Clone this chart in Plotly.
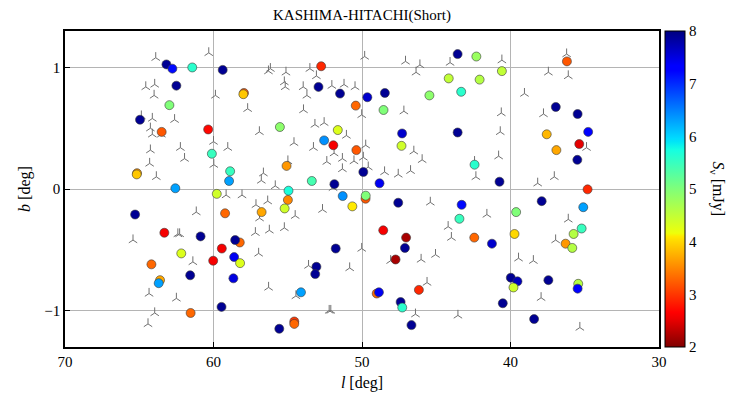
import plotly.graph_objects as go

# --- Data ---
src_l = [63.17, 62.77, 61.43, 59.38, 62.50, 57.95, 57.99, 62.97, 64.95, 63.49,
         60.36, 60.11, 65.15, 65.17, 58.88, 58.95, 62.57, 52.75, 52.93, 51.48,
         49.64, 48.46, 50.42, 48.55, 45.46, 44.16, 43.32, 43.56, 55.53, 51.63,
         52.55, 51.93, 50.38, 47.30, 47.34, 43.56, 55.08, 49.91, 53.38, 51.86,
         48.82, 54.95, 51.30, 49.76, 49.75, 42.30, 40.58, 42.08, 36.20, 36.95,
         35.48, 37.56, 34.77, 35.37, 36.91, 35.50, 42.42, 40.74, 34.81, 59.78,
         65.28, 59.22, 56.76, 63.31, 60.87, 58.23, 58.54, 59.44, 60.02, 58.61,
         58.21, 62.17, 64.18, 61.57, 58.66, 63.60, 63.69, 59.46, 61.54, 54.99,
         55.21, 50.65, 47.56, 43.29, 43.44, 48.57, 47.03, 47.11, 47.74, 51.77,
         53.07, 53.15, 54.11, 49.01, 48.86, 46.17, 47.40, 47.29, 46.67, 54.56,
         54.56, 55.57, 35.10, 37.90, 39.62, 42.44, 41.25, 39.73, 35.21, 35.75,
         36.29, 35.84, 39.98, 39.53, 39.80, 37.45, 35.44, 35.48, 40.52, 38.41]
src_b = [1.025, 0.99, 1.00, 0.98, 0.85, 0.79, 0.78, 0.69, 0.57, 0.47,
         0.49, 0.29, 0.13, 0.12, 0.146, 0.066, 0.006, 1.01, 0.84, 0.785,
         0.755, 0.79, 0.686, 0.65, 0.77, 0.91, 0.80, 1.11, 0.51, 0.485,
         0.40, 0.36, 0.32, 0.457, 0.355, 0.465, 0.19, 0.14, 0.066, 0.04,
         0.047, -0.014, -0.058, -0.08, -0.055, 1.09, 0.97, 0.90, 1.05, 0.675,
         0.617, 0.45, 0.47, 0.37, 0.32, 0.24, 0.20, 0.06, -0.003, -0.04,
         -0.21, -0.20, -0.19, -0.36, -0.39, -0.44, -0.42, -0.49, -0.59, -0.56,
         -0.61, -0.53, -0.62, -0.71, -0.735, -0.75, -0.775, -0.97, -1.02, -0.09,
         -0.16, -0.143, -0.113, -0.13, -0.245, -0.34, -0.40, -0.485, -0.58, -0.49,
         -0.64, -0.70, -0.85, -0.86, -0.85, -0.83, -0.93, -0.975, -1.12, -1.09,
         -1.11, -1.15, -0.15, -0.10, -0.19, -0.40, -0.45, -0.37, -0.325, -0.37,
         -0.45, -0.485, -0.73, -0.76, -0.81, -0.75, -0.78, -0.82, -0.94, -1.07]
src_s = [7.9, 7.2, 5.6, 7.9, 7.9, 3.2, 3.9, 5.0, 7.9, 3.2,
         2.7, 5.5, 3.6, 3.9, 5.5, 6.3, 6.3, 2.9, 7.9, 7.9,
         7.6, 7.9, 3.3, 5.0, 4.9, 4.5, 5.6, 7.9, 4.9, 4.3,
         6.4, 2.6, 3.2, 7.6, 4.4, 7.9, 3.6, 7.9, 5.4, 7.9,
         7.4, 5.7, 6.4, 3.2, 5.0, 4.8, 4.5, 4.6, 3.2, 7.9,
         7.9, 3.8, 7.3, 2.5, 3.7, 7.9, 5.6, 7.9, 2.9, 4.4,
         7.9, 3.3, 3.7, 2.6, 7.9, 3.3, 7.9, 2.6, 2.6, 7.4,
         4.3, 4.3, 3.3, 7.9, 7.5, 3.7, 6.3, 7.9, 3.3, 3.5,
         4.4, 4.1, 7.9, 7.2, 5.5, 2.6, 2.2, 7.9, 2.2, 7.9,
         7.9, 7.9, 6.3, 3.3, 7.4, 2.9, 7.9, 5.6, 7.9, 3.0,
         3.3, 7.9, 6.3, 7.9, 5.0, 3.3, 7.6, 4.0, 5.5, 4.6,
         3.6, 4.6, 7.9, 7.7, 4.4, 7.9, 4.6, 7.3, 7.9, 7.9]

nd_l = [63.89, 60.32, 64.56, 63.96, 64.0, 59.87, 57.7, 64.86, 64.12, 62.62,
        64.25, 64.12, 63.51, 56.91, 60.0, 64.25, 62.23, 61.95, 59.04, 64.3,
        59.98, 63.85, 56.64, 56.78, 56.3,
        49.82, 47.07, 46.1, 46.36, 44.07, 56.17, 55.12, 53.51, 53.07, 55.23,
        55.17, 53.96, 53.71, 52.03, 51.21, 50.47, 53.94, 50.02, 47.18, 53.17,
        52.55, 51.05, 54.58, 53.27, 51.88, 51.32, 52.37, 50.54, 49.75, 49.91,
        49.58, 51.32, 54.99, 46.51, 45.95, 48.48, 47.56, 46.73, 55.84, 51.95,
        40.58, 37.45, 36.11, 36.22, 39.06, 37.78, 40.62, 40.69, 40.8, 34.88,
        42.42, 42.33, 37.05, 38.17,
        61.16, 62.4, 62.28, 65.42, 59.15, 58.08, 57.14, 56.9, 56.35, 57.18,
        56.24, 56.96, 61.39, 64.34, 62.5, 63.96, 64.41, 56.29,
        52.66, 54.5, 55.23, 50.02, 50.83, 53.6, 45.4, 44.2, 43.98, 45.05,
        46.02, 48.07, 45.62, 54.45, 52.21, 52.1, 46.4, 43.54,
        41.59, 36.11, 36.96, 39.46, 38.46, 37.94, 35.33]
nd_b = [1.08, 1.12, 0.84, 0.86, 0.77, 0.77, 0.66, 0.60, 0.58, 0.57,
        0.50, 0.45, 0.45, 0.47, 0.39, 0.32, 0.34, 0.25, 0.34, 0.21,
        0.20, 0.10, 0.13, 0.07, 0.97,
        1.09, 1.05, 1.02, 0.96, 1.04, 0.99, 0.96, 0.99, 0.93, 0.88,
        0.84, 0.84, 0.77, 0.85, 0.86, 0.84, 0.65, 0.61, 0.64, 0.53,
        0.545, 0.44, 0.38, 0.34, 0.295, 0.25, 0.225, 0.23, 0.36, 0.26,
        0.18, 0.165, 0.23, 0.31, 0.24, 0.14, 0.12, 0.15, 0.025, 0.01,
        1.06, 0.96, 0.93, 1.11, 0.785, 0.617, 0.625, 0.47, 0.27, 0.34,
        0.225, 0.10, 0.10, 0.047,
        -0.19, -0.37, -0.37, -0.42, -0.05, -0.05, -0.13, -0.24, -0.10, -0.36,
        -0.34, -0.53, -0.60, -0.86, -0.90, -1.02, -1.11, -0.81,
        -0.17, -0.22, -0.32, -0.49, -0.65, -0.63, -0.11, -0.31, -0.40, -0.54,
        -0.58, -0.59, -0.77, -0.88, -1.0, -1.0, -1.03, -1.04,
        -0.21, -0.25, -0.42, -0.57, -0.59, -0.895, -1.14]

x_ticks = [70, 60, 50, 40, 30]
y_ticks = [-1, 0, 1]
c_ticks = [2, 3, 4, 5, 6, 7, 8]

# matplotlib "jet", reversed (low = dark red, high = navy)
jet = [(0.0, (0, 0, 128)), (0.11, (0, 0, 255)), (0.125, (0, 0, 255)),
       (0.34, (0, 219, 255)), (0.35, (0, 229, 247)), (0.375, (20, 255, 226)),
       (0.5, (128, 255, 121)), (0.64, (238, 255, 10)), (0.65, (255, 234, 0)),
       (0.66, (255, 222, 0)), (0.89, (255, 0, 0)), (0.91, (237, 0, 0)),
       (1.0, (128, 0, 0))]
jet_r = [[round(1 - p, 4), "rgb(%d,%d,%d)" % c] for p, c in reversed(jet)]

FONT = "Liberation Serif"

fig = go.Figure()
fig.add_trace(go.Scatter(
    x=nd_l, y=nd_b, mode="markers",
    marker=dict(symbol="y-up", size=7, line=dict(color="#707070", width=1)),
    showlegend=False, hoverinfo="skip"))
fig.add_trace(go.Scatter(
    x=src_l, y=src_b, mode="markers",
    marker=dict(symbol="circle", size=9, color=src_s, cmin=2, cmax=8,
                colorscale=jet_r, line=dict(color="#3a3a3a", width=0.6),
                colorbar=dict(x=1.0101, xanchor="left", xpad=0, y=0.5,
                              yanchor="middle", len=1, lenmode="fraction",
                              ypad=0, thickness=20, outlinecolor="black",
                              outlinewidth=1, tickvals=c_ticks, ticks="",
                              tickfont=dict(family=FONT, size=15, color="black"))),
    showlegend=False))

axis_common = dict(showline=True, mirror=True, linecolor="black", linewidth=1.5,
                   showgrid=True, gridcolor="#b4b4b4", gridwidth=1,
                   ticks="inside", ticklen=5, tickcolor="black", zeroline=False,
                   tickfont=dict(family=FONT, size=15, color="black"))
fig.update_xaxes(range=[70, 30], tickvals=x_ticks,
                 title=dict(text="<i>l</i> [deg]", font=dict(family=FONT, size=16, color="black"),
                            standoff=8), **axis_common)
fig.update_yaxes(range=[-1.3, 1.3], tickvals=y_ticks,
                 title=dict(text="<i>b</i> [deg]", font=dict(family=FONT, size=16, color="black"),
                            standoff=10), **axis_common)

fig.update_layout(
    width=735, height=395,
    margin=dict(l=65, r=76, t=31, b=48, autoexpand=False),
    plot_bgcolor="white", paper_bgcolor="white",
    title=dict(text="KASHIMA-HITACHI(Short)", x=(65 + 659) / 2 / 735, xanchor="center",
               y=1 - 15 / 395, yanchor="middle",
               font=dict(family=FONT, size=15, color="black")),
    annotations=[dict(text="<i>S</i><sub>ν</sub> [mJy]", xref="paper", yref="paper",
                      x=1.1, y=0.5, xanchor="center", yanchor="middle",
                      textangle=90, showarrow=False,
                      font=dict(family=FONT, size=16, color="black"))],
)

fig.write_html("out.html", config={"displayModeBar": False},
               post_script="document.body.style.margin='0';document.body.style.padding='0';")
